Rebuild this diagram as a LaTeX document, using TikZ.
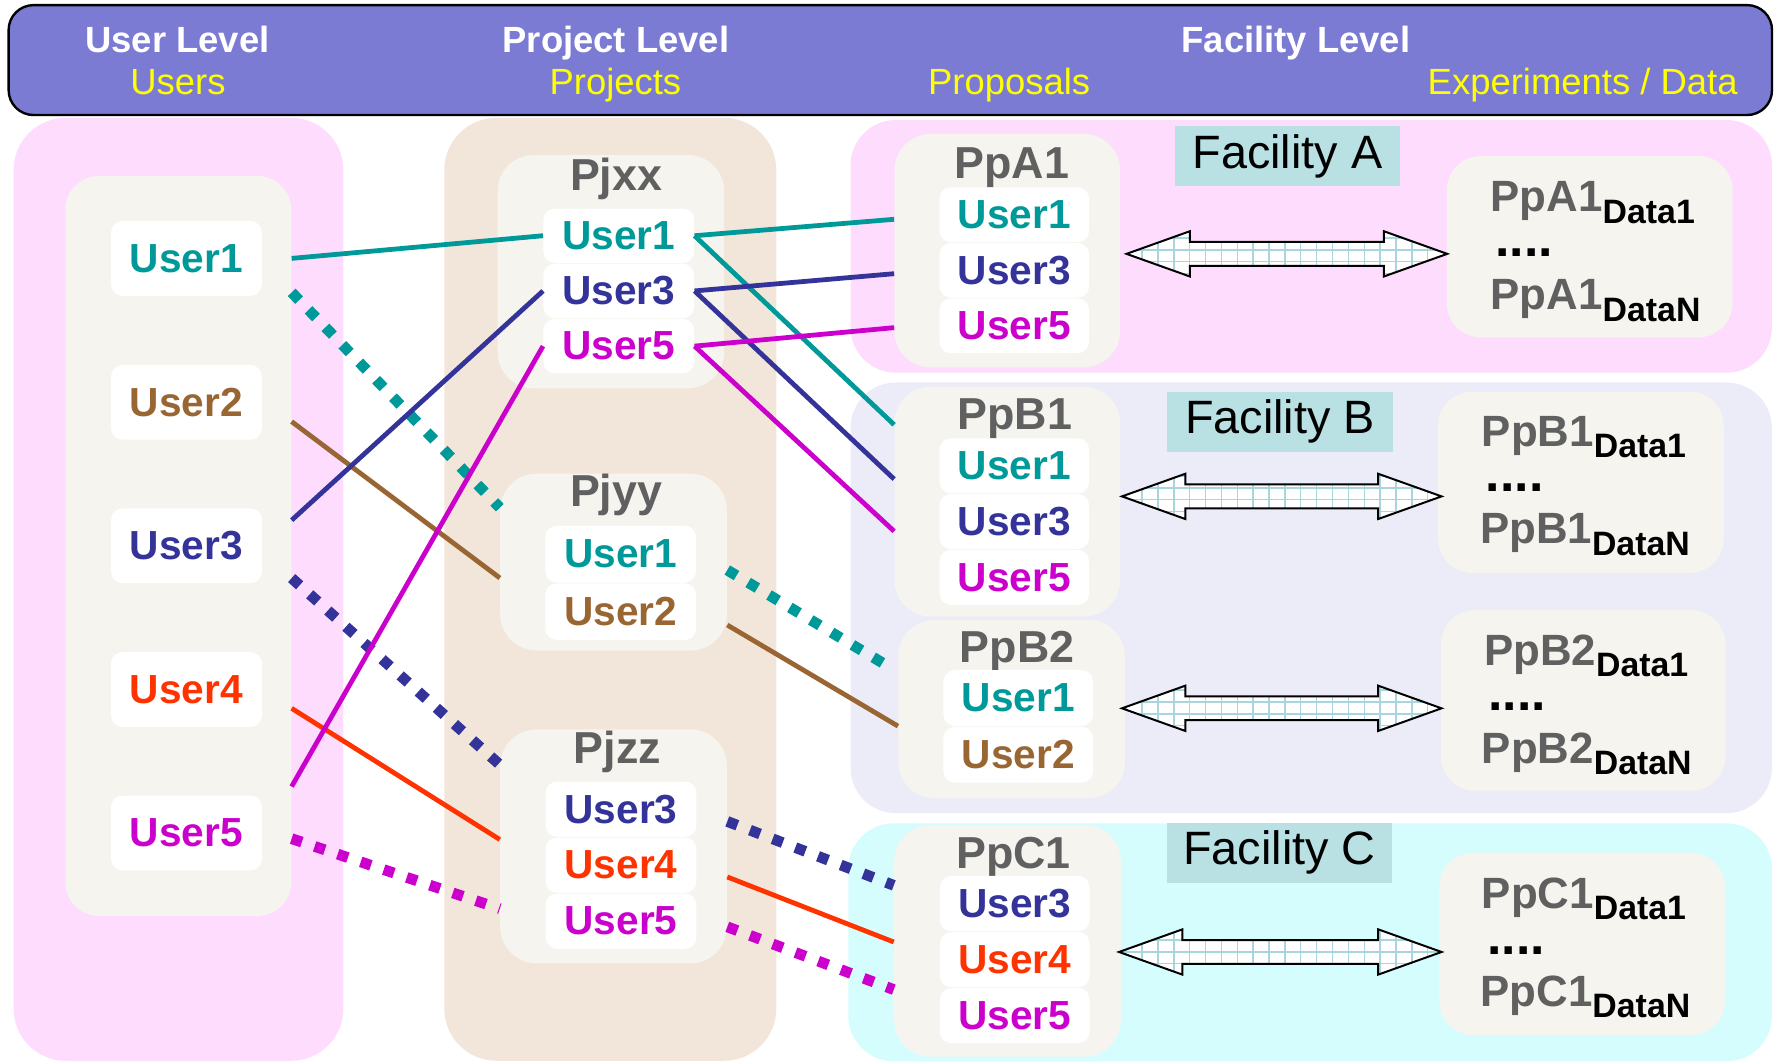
\documentclass[tikz,border=0pt]{standalone}
\usepackage{fontspec}
\setmainfont{Liberation Sans}
\usetikzlibrary{calc, positioning}
\definecolor{headblue}{RGB}{123,123,211}
\definecolor{headyellow}{RGB}{255,255,0}
\definecolor{userpink}{RGB}{253,220,253}
\definecolor{projtan}{RGB}{242,230,218}
\definecolor{boxcream}{RGB}{245,244,238}
\definecolor{facA}{RGB}{253,220,253}
\definecolor{facB}{RGB}{236,235,248}
\definecolor{facC}{RGB}{214,253,254}
\definecolor{labelteal}{RGB}{185,224,227}
\definecolor{gridblue}{RGB}{168,214,220}
\definecolor{titlegray}{RGB}{96,96,96}
\definecolor{uteal}{RGB}{0,153,153}
\definecolor{unavy}{RGB}{51,51,153}
\definecolor{ubrown}{RGB}{153,102,51}
\definecolor{ured}{RGB}{255,51,0}
\definecolor{umag}{RGB}{204,0,204}
\newlength{\px}\setlength{\px}{0.02cm}
\newcommand{\datasub}[1]{\raisebox{-10\px}{\fontsize{17}{17}\selectfont\color{black}#1}}
\newcommand{\dblarrow}[2]{%
  \path[gridarrow] (#1) -- ++(56,-20) -- ++(0,9.5) -- ($(#2)+(-56,-10.5)$) -- ++(0,-9.5) -- (#2)
    -- ++(-56,20) -- ++(0,-9.5) -- ($(#1)+(56,10.5)$) -- ++(0,9.5) -- cycle;}

\begin{document}
\begin{tikzpicture}[
    x=0.02cm, y=-0.02cm,
    colbg/.style={rounded corners=46\px, inner sep=0pt},
    region/.style={rounded corners=40\px, inner sep=0pt},
    panel/.style={fill=boxcream, rounded corners=32\px, inner sep=0pt},
    userbox/.style={fill=white, rounded corners=10\px, inner sep=0pt, minimum width=133\px, font=\fontsize{20.4}{20.4}\selectfont\bfseries},
    ptitle/.style={anchor=base, text=titlegray, font=\fontsize{22.5}{22.5}\selectfont\bfseries},
    headtxt/.style={anchor=base, text=white, font=\fontsize{18.3}{18.3}\selectfont\bfseries},
    subtxt/.style={anchor=base, text=headyellow, font=\fontsize{18.3}{18.3}\selectfont},
    faclabel/.style={fill=labelteal, inner sep=0pt, minimum width=199\px, minimum height=53\px, font=\fontsize{23.5}{23.5}\selectfont},
    datatxt/.style={anchor=base west, inner sep=0pt, text=titlegray, font=\fontsize{22}{22}\selectfont\bfseries},
    datadots/.style={anchor=base west, inner sep=0pt, font=\fontsize{26}{26}\selectfont\bfseries},
    link/.style={line width=2.4pt},
    dotlink/.style={line width=5.4pt, dash pattern=on 5.4pt off 6.8pt},
    gridarrow/.style={draw=black, line width=1pt, fill=white,
        path picture={\draw[gridblue, line width=0.7pt, x=1cm, y=1cm, xstep=0.28cm, ystep=0.21cm]
            (path picture bounding box.south west) grid (path picture bounding box.north east);}},
]
\useasboundingbox (0,0) rectangle (1568,937);

% Column backgrounds
\node[colbg, fill=userpink, minimum width=291\px, minimum height=832\px] (ucol) at (157.5,520) {};
\node[colbg, fill=projtan, minimum width=293\px, minimum height=832\px] (pcol) at (538.5,520) {};
\node[region, fill=facA, minimum width=813\px, minimum height=223\px] (fA) at (1157,217.4) {};
\node[region, fill=facB, minimum width=813\px, minimum height=380\px] (fB) at (1157,527.5) {};
\node[region, fill=facC, minimum width=815\px, minimum height=210\px] (fC) at (1156,831.5) {};

% Header
\node[draw=black, line width=1.2pt, fill=headblue, rounded corners=22\px, inner sep=0pt, minimum width=1556\px, minimum height=97\px] (header) at (785.6,53) {};
\node[headtxt] (hUser) at (156.5,46.5) {User Level};
\node[subtxt] (hUsers) at (157,83.2) {Users};
\node[headtxt] (hProj) at (543.5,46.5) {Project Level};
\node[subtxt] (hProjs) at (543,83.2) {Projects};
\node[headtxt] (hFac) at (1143.5,46.5) {Facility Level};
\node[subtxt] (hProp) at (890.5,83.2) {Proposals};
\node[subtxt] (hExp) at (1396.5,83.2) {Experiments / Data};

% Users
\node[panel, rounded corners=30\px, minimum width=199.4\px, minimum height=653\px] (ubox) at (157.3,481.7) {};
\node[userbox, minimum height=66\px, text=uteal] (u1) at (164.5,228) {User1};
\node[userbox, minimum height=66\px, text=ubrown] (u2) at (164.5,355) {User2};
\node[userbox, minimum height=66\px, text=unavy] (u3) at (164.5,481.6) {User3};
\node[userbox, minimum height=66\px, text=ured] (u4) at (164.5,608.4) {User4};
\node[userbox, minimum height=66\px, text=umag] (u5) at (164.5,735) {User5};

% Projects
\node[panel, minimum width=200\px, minimum height=206\px] (pxx) at (539,239.7) {};
\node[ptitle] (txx) at (543.7,168) {Pjxx};
\node[userbox, minimum height=48\px, text=uteal] (xx1) at (546,208) {User1};
\node[userbox, minimum height=48\px, text=unavy, below=0pt of xx1] (xx3) {User3};
\node[userbox, minimum height=48\px, text=umag, below=0pt of xx3] (xx5) {User5};

\node[panel, minimum width=200\px, minimum height=156\px] (pyy) at (541.4,496) {};
\node[ptitle] (tyy) at (543.7,447) {Pjyy};
\node[userbox, minimum height=50\px, text=uteal] (yy1) at (547.7,489) {User1};
\node[userbox, minimum height=50\px, text=ubrown, below=0pt of yy1] (yy2) {User2};

\node[panel, minimum width=200\px, minimum height=206.4\px] (pzz) at (541.4,746.8) {};
\node[ptitle] (tzz) at (544.8,674) {Pjzz};
\node[userbox, minimum height=48.7\px, text=unavy] (zz3) at (548,714) {User3};
\node[userbox, minimum height=48.7\px, text=ured, below=0pt of zz3] (zz4) {User4};
\node[userbox, minimum height=48.7\px, text=umag, below=0pt of zz4] (zz5) {User5};

% Proposals
\node[panel, minimum width=199\px, minimum height=206\px] (pA1) at (888.8,221.2) {};
\node[ptitle] (tA1) at (892.7,157.3) {PpA1};
\node[userbox, minimum width=132\px, minimum height=48.3\px, text=uteal] (a1) at (895,189.5) {User1};
\node[userbox, minimum width=132\px, minimum height=48.3\px, text=unavy, below=0pt of a1] (a3) {User3};
\node[userbox, minimum width=132\px, minimum height=48.3\px, text=umag, below=0pt of a3] (a5) {User5};

\node[panel, minimum width=199\px, minimum height=203\px] (pB1) at (888.8,442.6) {};
\node[ptitle] (tB1) at (895.6,379.4) {PpB1};
\node[userbox, minimum width=132\px, minimum height=48.5\px, text=uteal] (b1) at (895,411) {User1};
\node[userbox, minimum width=132\px, minimum height=48.5\px, text=unavy, below=0pt of b1] (b3) {User3};
\node[userbox, minimum width=132\px, minimum height=48.5\px, text=umag, below=0pt of b3] (b5) {User5};

\node[panel, minimum width=200\px, minimum height=157.4\px] (pB2) at (892.7,625.7) {};
\node[ptitle] (tB2) at (897.6,584.7) {PpB2};
\node[userbox, minimum width=132\px, minimum height=49.3\px, text=uteal] (b21) at (898.5,616) {User1};
\node[userbox, minimum width=132\px, minimum height=49.3\px, text=ubrown, below=0pt of b21] (b22) {User2};

\node[panel, minimum width=200\px, minimum height=204.4\px] (pC1) at (889,830.2) {};
\node[ptitle] (tC1) at (894.4,766.2) {PpC1};
\node[userbox, minimum width=132\px, minimum height=48.7\px, text=unavy] (c3) at (895.4,797.3) {User3};
\node[userbox, minimum width=132\px, minimum height=48.7\px, text=ured, below=0pt of c3] (c4) {User4};
\node[userbox, minimum width=132\px, minimum height=48.7\px, text=umag, below=0pt of c4] (c5) {User5};

% Facility labels
\node[faclabel] (labA) at (1136,138) {Facility A};
\node[faclabel] (labB) at (1129.5,372) {Facility B};
\node[faclabel] (labC) at (1129,752.3) {Facility C};

% Experiments / data
\node[panel, rounded corners=30\px, minimum width=252\px, minimum height=160\px] (dA) at (1402.7,217.7) {};
\node[datatxt] (dA1) at (1315,186.8) {PpA1\datasub{Data1}};
\node[datadots] (dAd) at (1319,226.5) {....};
\node[datatxt] (dAN) at (1315,273.5) {PpA1\datasub{DataN}};

\node[panel, rounded corners=30\px, minimum width=252\px, minimum height=160\px] (dB1) at (1395,425.5) {};
\node[datatxt] (dB11) at (1307.2,394) {PpB1\datasub{Data1}};
\node[datadots] (dB1d) at (1310.8,433.8) {....};
\node[datatxt] (dB1N) at (1305.6,480) {PpB1\datasub{DataN}};

\node[panel, rounded corners=30\px, minimum width=251\px, minimum height=159.4\px] (dB2) at (1397,618) {};
\node[datatxt] (dB21) at (1309.2,586.8) {PpB2\datasub{Data1}};
\node[datadots] (dB2d) at (1313,626.5) {....};
\node[datatxt] (dB2N) at (1307.2,673.6) {PpB2\datasub{DataN}};

\node[panel, rounded corners=30\px, minimum width=252\px, minimum height=161\px] (dC) at (1396,832.9) {};
\node[datatxt] (dC1) at (1307.2,801.5) {PpC1\datasub{Data1}};
\node[datadots] (dCd) at (1312,841.8) {....};
\node[datatxt] (dCN) at (1306,888.2) {PpC1\datasub{DataN}};

% Proposal <-> data arrows
\coordinate (arAl) at (994,224);    \coordinate (arAr) at (1277,224);
\coordinate (arB1l) at (990,438);   \coordinate (arB1r) at (1272,438);
\coordinate (arB2l) at (990,625);   \coordinate (arB2r) at (1272,625);
\coordinate (arCl) at (987.4,840);  \coordinate (arCr) at (1272,840);
\dblarrow{arAl}{arAr}
\dblarrow{arB1l}{arB1r}
\dblarrow{arB2l}{arB2r}
\dblarrow{arCl}{arCr}

% Users -> projects
\draw[link, uteal] (ubox.east |- u1) -- (xx1.west);
\draw[dotlink, uteal] ($(ubox.east |- u1)+(0,30)$) -- ($(pyy.west)+(0,-48)$);
\draw[link, ubrown] ($(ubox.east |- u2)+(0,17)$) -- ($(pyy.west)+(0,14)$);
\draw[link, unavy] ($(ubox.east |- u3)+(0,-22.6)$) -- (xx3.west);
\draw[dotlink, unavy] ($(ubox.east |- u3)+(0,28.5)$) -- ($(pzz.west)+(0,-72)$);
\draw[link, ured] ($(ubox.east |- u4)+(0,16.6)$) -- ($(pzz.west)+(0,-6)$);
\draw[link, umag] ($(ubox.east |- u5)+(0,-41)$) -- (xx5.west);
\draw[dotlink, umag] ($(ubox.east |- u5)+(0,5)$) -- ($(pzz.west)+(0,55)$);

% Projects -> proposals
\draw[link, uteal] (xx1.east) -- ($(pA1.west |- a1)+(0,4)$);
\draw[link, uteal] (xx1.east) -- ($(pB1.north west)+(0,34)$);
\draw[link, unavy] (xx3.east) -- ($(pA1.west |- a3)+(0,3)$);
\draw[link, unavy] (xx3.east) -- ($(pB1.north west)+(0,82)$);
\draw[link, umag] (xx5.east) -- ($(pA1.west |- a5)+(0,1.6)$);
\draw[link, umag] (xx5.east) -- ($(pB1.north west)+(0,128)$);
\draw[dotlink, uteal] ($(pyy.east)+(0,7)$) -- ($(pB2.west)+(-4,-35)$);
\draw[link, ubrown] ($(pyy.east)+(0,55.5)$) -- ($(pB2.west)+(0,15)$);
\draw[dotlink, unavy] ($(pzz.east)+(0,-22)$) -- ($(pC1.west)+(0,-49)$);
\draw[link, ured] ($(pzz.east)+(0,27)$) -- ($(pC1.west)+(0,1)$);
\draw[dotlink, umag] ($(pzz.east)+(0,71)$) -- ($(pC1.west)+(0,43)$);

\end{tikzpicture}
\end{document}
